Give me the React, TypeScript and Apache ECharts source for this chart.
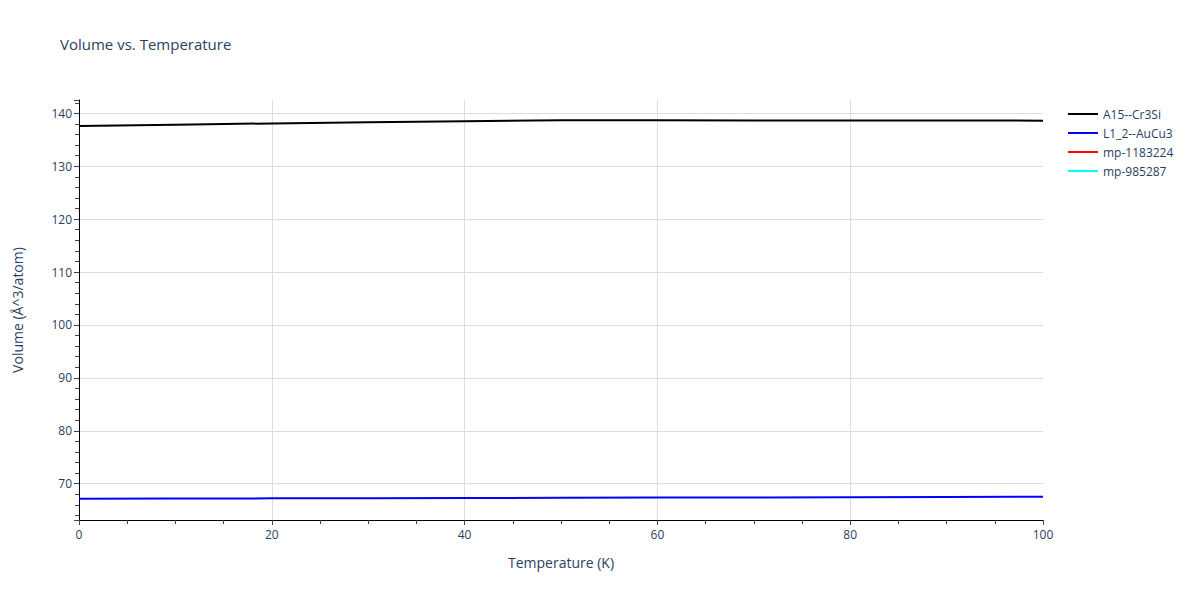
import React, { useEffect, useRef } from "react";
import * as echarts from "echarts";

const temperatures = [0, 10, 20, 30, 40, 50, 60, 70, 80, 90, 100];
const a15Cr3Si = [137.6, 137.85, 138.1, 138.3, 138.49, 138.68, 138.67, 138.66, 138.65, 138.63, 138.62];
const l12AuCu3 = [67.16, 67.19, 67.22, 67.25, 67.28, 67.32, 67.36, 67.4, 67.44, 67.49, 67.54];
const mp1183224: number[] = [];
const mp985287: number[] = [];

const seriesNames = ["A15--Cr3Si", "L1_2--AuCu3", "mp-1183224", "mp-985287"];
const seriesColors = ["#000000", "#0000ff", "#ff0000", "#00ffff"];
const seriesValues = [a15Cr3Si, l12AuCu3, mp1183224, mp985287];

const FONT = "'Open Sans', verdana, arial, sans-serif";
const TXT = "#2a3f5f";

export default function App() {
  const ref = useRef<HTMLDivElement>(null);
  useEffect(() => {
    document.body.style.margin = "0";
    if (!ref.current) return;
    const chart = echarts.init(ref.current, undefined, { renderer: "svg" });
    chart.setOption({
      animation: false,
      textStyle: { fontFamily: FONT },
      title: {
        text: "Volume vs. Temperature",
        left: 60,
        top: 36,
        padding: 0,
        textStyle: { fontFamily: FONT, fontSize: 15, fontWeight: "normal", color: TXT },
      },
      legend: {
        orient: "vertical",
        left: 1063,
        top: 102,
        icon: "rect",
        itemWidth: 30,
        itemHeight: 2,
        itemGap: 5,
        textStyle: { fontFamily: FONT, fontSize: 12, color: TXT, lineHeight: 14 },
        data: seriesNames,
      },
      grid: { left: 79, right: 157, top: 100, bottom: 80, containLabel: false },
      xAxis: {
        type: "value",
        min: 0,
        max: 100,
        interval: 20,
        name: "Temperature (K)",
        nameLocation: "middle",
        nameGap: 35,
        nameTextStyle: { fontFamily: FONT, fontSize: 14, color: TXT },
        axisLine: { show: true, lineStyle: { color: "#000", width: 1 } },
        axisTick: { show: true, length: 5, lineStyle: { color: "#444" } },
        minorTick: { show: true, splitNumber: 4, length: 4, lineStyle: { color: "#444" } },
        axisLabel: { fontFamily: FONT, fontSize: 12, color: TXT, margin: 8 },
        splitLine: { show: true, showMinLine: false, showMaxLine: false, lineStyle: { color: "#dedede", width: 1 } },
      },
      yAxis: {
        type: "value",
        min: 63.13,
        max: 142.52,
        minInterval: 10,
        maxInterval: 10,
        splitNumber: 8,
        name: "Volume (Å^3/atom)",
        nameLocation: "middle",
        nameGap: 55,
        nameTextStyle: { fontFamily: FONT, fontSize: 14, color: TXT },
        axisLine: { show: true, lineStyle: { color: "#000", width: 1 } },
        axisTick: { show: true, length: 5, lineStyle: { color: "#444" } },
        minorTick: { show: true, splitNumber: 5, length: 4, lineStyle: { color: "#444" } },
        axisLabel: { fontFamily: FONT, fontSize: 12, color: TXT, margin: 7, showMinLabel: false, showMaxLabel: false },
        splitLine: { show: true, showMinLine: false, showMaxLine: false, lineStyle: { color: "#dedede", width: 1 } },
      },
      series: seriesNames.map((name, i) => ({
        name,
        type: "line",
        showSymbol: false,
        symbol: "none",
        color: seriesColors[i],
        lineStyle: { color: seriesColors[i], width: 2 },
        data: seriesValues[i].map((v, j) => [temperatures[j], v]),
      })),
    });
    return () => chart.dispose();
  }, []);
  return <div ref={ref} style={{ width: 1200, height: 600 }} />;
}
